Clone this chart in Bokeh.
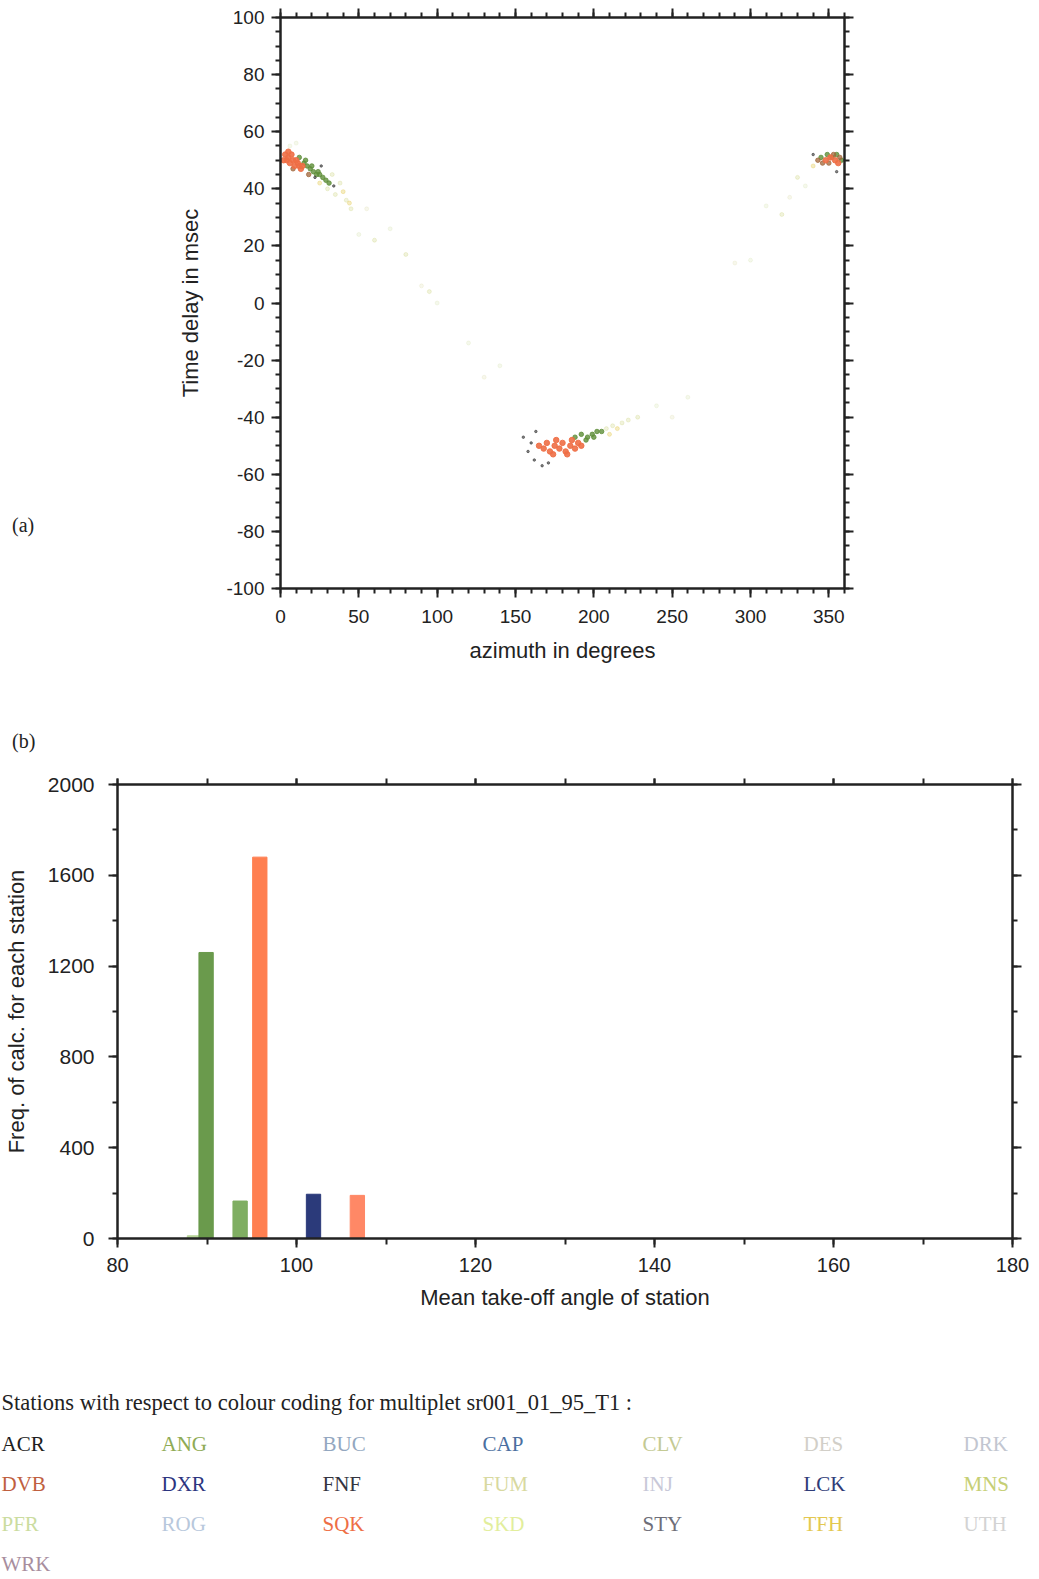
from bokeh.plotting import figure
from bokeh.models import (Range1d, LinearAxis, SingleIntervalTicker, Div,
                          ColumnDataSource, CustomJSTickFormatter)
from bokeh.layouts import row
from bokeh.core.properties import value
from bokeh.embed import file_html
from bokeh.resources import INLINE

# ---------------- data ----------------
# (a) azimuth / time-delay solutions per station
sqk_az = [3, 4, 5, 6, 7, 8, 9, 10, 11, 12, 5, 2, 13, 14,
          165, 168, 170, 172, 175, 178, 180, 182, 185, 188, 190, 192, 174, 183, 176, 186,
          348, 351, 354, 356]
sqk_dt = [52, 50, 51, 49, 52, 50, 48, 50, 49, 48, 53, 50, 47, 48,
          -50, -51, -49, -52, -50, -51, -49, -52, -50, -51, -49, -50, -53, -53, -48, -48,
          50, 51, 50, 49]
ang_az = [12, 15, 17, 19, 21, 23, 25, 27, 16, 20, 24, 29, 31,
          188, 192, 196, 199, 202, 205, 195, 200,
          349, 352, 355, 358, 345]
ang_dt = [51, 49, 48, 47, 46, 45, 45, 44, 50, 48, 46, 43, 42,
          -47, -46, -47, -46, -45, -45, -48, -47,
          52, 51, 52, 50, 51]
dvb_az = [346, 350, 353, 357, 343, 8, 18]
dvb_dt = [49, 49, 52, 51, 50, 47, 45]
mns_az = [30, 35, 38, 42, 45, 33, 208, 212, 218, 222, 228, 80, 95, 60, 330, 320]
mns_dt = [40, 38, 42, 36, 33, 45, -44, -43, -42, -41, -40, 17, 4, 22, 44, 31]
tfh_az = [40, 44, 210, 215, 340, 25]
tfh_dt = [39, 35, -46, -44, 48, 42]
acr_az = [155, 158, 162, 160, 167, 171, 163, 22, 34, 26, 340, 355]
acr_dt = [-47, -52, -55, -49, -57, -56, -45, 44, 41, 48, 52, 46]
pfr_az = [50, 70, 100, 120, 140, 240, 260, 300, 310, 335, 10, 6]
pfr_dt = [24, 26, 0, -14, -22, -36, -33, 15, 34, 41, 56, 55]
fum_az = [55, 90, 130, 250, 290, 325]
fum_dt = [33, 6, -26, -40, 14, 37]

# (b) mean take-off angle histogram per station
bar_station = ["PFR", "ANG", "MNS", "SQK", "DXR", "DVB"]
bar_angle = [88.6, 89.9, 93.7, 95.9, 101.9, 106.8]
bar_freq = [12, 1260, 165, 1680, 195, 190]
bar_color = ["#b9d59a", "#6a9a4c", "#7fae62", "#ff7f50", "#2b3a7a", "#ff8866"]

# station colour coding
stations = ["ACR", "ANG", "BUC", "CAP", "CLV", "DES", "DRK",
            "DVB", "DXR", "FNF", "FUM", "INJ", "LCK", "MNS",
            "PFR", "ROG", "SQK", "SKD", "STY", "TFH", "UTH",
            "WRK"]
station_colors = ["#1e1e1e", "#8fab55", "#93a7c0", "#4b6fa0", "#c4ca94", "#d2cfc8", "#c2c6d0",
                  "#c0603f", "#2c3580", "#34343f", "#d8d9a0", "#c8c8d8", "#2f3c78", "#c6cf75",
                  "#cbdc9f", "#b8c8dc", "#ee6e45", "#e2ee9c", "#6e6e78", "#e3c850", "#d3d3d3",
                  "#a88e9e"]
title_text = "Stations with respect to colour coding for multiplet sr001_01_95_T1 :"
panel_labels = ["(a)", "(b)"]

SANS = "Liberation Sans"
SERIF = "Liberation Serif"
TXT = "#222222"
W = 1039
SIDE = 160


def style_axis(ax, show_labels=True, size="19px"):
    ax.axis_line_width = 2.5
    ax.axis_line_color = "#222222"
    ax.major_tick_line_width = 2
    ax.minor_tick_line_width = 2
    ax.major_tick_line_color = "#222222"
    ax.minor_tick_line_color = "#222222"
    ax.major_tick_in = 0
    ax.minor_tick_in = 0
    ax.major_tick_out = 9
    ax.minor_tick_out = 5
    ax.major_label_text_font = SANS
    ax.major_label_text_font_size = size
    ax.major_label_text_color = TXT
    ax.axis_label_text_font = SANS
    ax.axis_label_text_font_size = "22px"
    ax.axis_label_text_font_style = "normal"
    ax.axis_label_text_color = TXT
    if show_labels:
        ax.formatter = CustomJSTickFormatter(code="return tick.toString()")
    else:
        ax.formatter = CustomJSTickFormatter(code="return ''")
        ax.major_label_standoff = 0


# ---------------- figure (a) ----------------
pa = figure(width=W - SIDE, height=760, output_backend="svg", toolbar_location=None,
            x_range=Range1d(0, 360), y_range=Range1d(-100, 100),
            min_border_left=280 - SIDE, min_border_right=W - 280 - 564, min_border_top=17,
            min_border_bottom=172, x_axis_location=None, y_axis_location=None)
pa.grid.visible = False
pa.outline_line_color = None

ax_b = LinearAxis(ticker=SingleIntervalTicker(interval=50, num_minor_ticks=5),
                  axis_label="azimuth in degrees")
style_axis(ax_b)
ax_b.major_label_standoff = 12
ax_b.axis_label_standoff = 12
pa.add_layout(ax_b, "below")
ax_l = LinearAxis(ticker=SingleIntervalTicker(interval=20, num_minor_ticks=4),
                  axis_label="Time delay in msec")
style_axis(ax_l)
ax_l.major_label_standoff = 7
ax_l.axis_label_standoff = 20
pa.add_layout(ax_l, "left")
ax_t = LinearAxis(ticker=SingleIntervalTicker(interval=50, num_minor_ticks=5))
style_axis(ax_t, False)
pa.add_layout(ax_t, "above")
ax_r = LinearAxis(ticker=SingleIntervalTicker(interval=20, num_minor_ticks=4))
style_axis(ax_r, False)
pa.add_layout(ax_r, "right")

faint = [(pfr_az, pfr_dt, station_colors[14], 0.2),
         (fum_az, fum_dt, station_colors[10], 0.2),
         (mns_az, mns_dt, station_colors[13], 0.25),
         (tfh_az, tfh_dt, station_colors[19], 0.35)]
for xs, ys, c, a in faint:
    pa.scatter(xs, ys, size=4, color=c, alpha=a)
pa.scatter(ang_az, ang_dt, size=4.5, color="#5f8f3a", alpha=0.8)
pa.scatter(dvb_az, dvb_dt, size=4.5, color="#a0663a", alpha=0.75)
pa.scatter(sqk_az, sqk_dt, size=5.5, color="#ee6e45", alpha=0.9)
pa.scatter(acr_az, acr_dt, size=2.5, color="#333333", alpha=0.6)

side = Div(width=SIDE, height=760, margin=0,
           text=('<div style="position:relative;width:%dpx;height:760px;'
                 'font-family:\'Liberation Serif\';font-size:20px;color:%s;">'
                 '<span style="position:absolute;left:12px;top:511px;">%s</span>'
                 '<span style="position:absolute;left:12px;top:727px;">%s</span>'
                 '</div>') % (SIDE, TXT, panel_labels[0], panel_labels[1]))

# ---------------- figure (b) ----------------
pb = figure(width=W, height=570, output_backend="svg", toolbar_location=None,
            x_range=Range1d(80, 180), y_range=Range1d(0, 2000),
            min_border_left=117, min_border_right=W - 117 - 895, min_border_top=24,
            min_border_bottom=92, x_axis_location=None, y_axis_location=None)
pb.grid.visible = False
pb.outline_line_color = None

bx = LinearAxis(ticker=SingleIntervalTicker(interval=20, num_minor_ticks=2),
                axis_label="Mean take-off angle of station")
style_axis(bx, size="20px")
bx.major_label_standoff = 10
bx.axis_label_standoff = 10
bx.minor_tick_out = 6
pb.add_layout(bx, "below")
by = LinearAxis(ticker=SingleIntervalTicker(interval=400, num_minor_ticks=2),
                axis_label="Freq. of calc. for each station")
style_axis(by, size="21px")
by.major_label_standoff = 14
by.axis_label_standoff = 16
pb.add_layout(by, "left")
bt = LinearAxis(ticker=SingleIntervalTicker(interval=20, num_minor_ticks=2))
style_axis(bt, False)
bt.major_tick_out = 6
bt.minor_tick_out = 6
pb.add_layout(bt, "above")
br = LinearAxis(ticker=SingleIntervalTicker(interval=400, num_minor_ticks=2))
style_axis(br, False)
pb.add_layout(br, "right")

src_b = ColumnDataSource(dict(x=bar_angle, top=bar_freq, color=bar_color, st=bar_station))
pb.vbar(x="x", top="top", bottom=0, width=1.6, color="color", source=src_b)

# ---------------- legend block ----------------
HC = 249
pc = figure(width=W, height=HC, output_backend="svg", toolbar_location=None,
            x_range=Range1d(0, W), y_range=Range1d(HC, 0),
            min_border=0, x_axis_location=None, y_axis_location=None)
pc.grid.visible = False
pc.outline_line_color = None

col_x = [1, 161, 322, 482, 642, 803, 963]
xs = [col_x[i % 7] for i in range(len(stations))]
ys = [113 + 40 * (i // 7) for i in range(len(stations))]
src_c = ColumnDataSource(dict(x=xs, y=ys, t=stations, c=station_colors))
pc.text(x="x", y="y", text="t", text_color="c", source=src_c,
        text_font=value(SERIF), text_font_size="21px", text_baseline="middle")
pc.text(x=[1], y=[72], text=[title_text], text_color=TXT,
        text_font=value(SERIF), text_font_size="22.5px", text_baseline="middle")

open("out.html", "w").write(file_html([row(side, pa), pb, pc], INLINE))
